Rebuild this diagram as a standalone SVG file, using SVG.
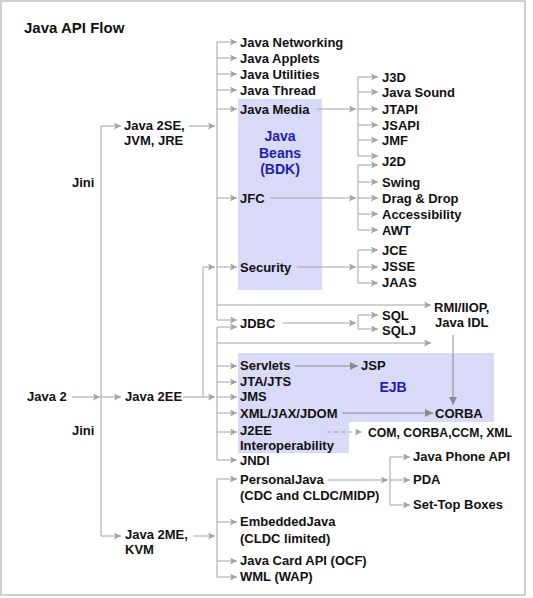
<svg xmlns="http://www.w3.org/2000/svg" width="533" height="598" viewBox="0 0 533 598">
<style>
text{font-family:"Liberation Sans",Arial,sans-serif;font-size:13px;font-weight:bold;fill:#111}
.t{font-size:15px}
.b{font-size:14px;fill:#1e1eb0;text-anchor:middle}
.c line,.c path{stroke:#a3a3a3;stroke-width:1;fill:none}
.c .a{marker-end:url(#ah)}
.c .d{stroke:#8a8a96;marker-end:url(#ahd)}
.c .ds{stroke-dasharray:4 3;marker-end:url(#ah)}
</style>
<defs>
<marker id="ah" viewBox="0 0 7 7" refX="7" refY="3.5" markerWidth="7" markerHeight="7" markerUnits="userSpaceOnUse" orient="auto"><path d="M0,0 L7,3.5 L0,7 L1.5,3.5 z" fill="#a3a3a3"/></marker>
<marker id="ahd" viewBox="0 0 8 8" refX="8" refY="4" markerWidth="8" markerHeight="8" markerUnits="userSpaceOnUse" orient="auto"><path d="M0,0 L8,4 L0,8 z" fill="#8a8a96"/></marker>
</defs>
<rect x="1" y="1" width="524" height="594" fill="#fff" stroke="#d0d0d0" stroke-width="2"/>
<rect id="beans-box" x="238" y="99" width="84" height="191" fill="#d9d9f8"/>
<path id="ejb-box" d="M238,353 H494 V422 H349 V453 H238 Z" fill="#d9d9f8"/>
<text class="t" x="24" y="33">Java API Flow</text>
<g class="c" id="connectors">
<path class="a" d="M72,397 H100"/>
<path d="M101,126 V536"/>
<path class="a" d="M101,126 H121"/>
<path class="a" d="M101,397 H121"/>
<path class="a" d="M101,536 H121"/>
<path class="a" d="M189,126 H215"/>
<path d="M217,42 V320"/>
<path class="a" d="M217,42 H237"/>
<path class="a" d="M217,58 H237"/>
<path class="a" d="M217,74 H237"/>
<path class="a" d="M217,90 H237"/>
<path class="a" d="M217,109 H237"/>
<path class="a" d="M217,198 H237"/>
<path class="a" d="M217,267 H237"/>
<path class="a" d="M217,320 H237"/>
<path class="a" d="M217,305 H431"/>
<path d="M183,397 H203 M203,267 V397"/>
<path class="a" d="M203,267 H215"/>
<path class="a" d="M203,397 H215"/>
<path d="M217,327 V460"/>
<path class="a" d="M217,327 H237"/>
<path class="a" d="M217,343 H431"/>
<path class="a" d="M217,366 H237"/>
<path class="a" d="M217,382 H237"/>
<path class="a" d="M217,397 H237"/>
<path class="a" d="M217,413 H237"/>
<path class="a" d="M217,432 H237"/>
<path class="a" d="M217,460 H237"/>
<path class="a" d="M193,536 H215"/>
<path d="M217,479 V577"/>
<path class="a" d="M217,479 H237"/>
<path class="a" d="M217,522 H237"/>
<path class="a" d="M217,561 H237"/>
<path class="a" d="M217,577 H237"/>
<path class="a" d="M317,109 H356"/>
<path d="M358,77 V156"/>
<path class="a" d="M358,77 H378"/>
<path class="a" d="M358,92 H378"/>
<path class="a" d="M358,109 H378"/>
<path class="a" d="M358,125 H378"/>
<path class="a" d="M358,140 H378"/>
<path class="a" d="M358,156 H378"/>
<path class="a" d="M270,198 H356"/>
<path d="M358,165 V230"/>
<path class="a" d="M358,165 H378"/>
<path class="a" d="M358,182 H378"/>
<path class="a" d="M358,198 H378"/>
<path class="a" d="M358,214 H378"/>
<path class="a" d="M358,230 H378"/>
<path class="a" d="M297,267 H356"/>
<path d="M358,250 V283"/>
<path class="a" d="M358,250 H378"/>
<path class="a" d="M358,267 H378"/>
<path class="a" d="M358,283 H378"/>
<path class="a" d="M283,323 H356"/>
<path d="M358,315 V329"/>
<path class="a" d="M358,315 H378"/>
<path class="a" d="M358,329 H378"/>
<path class="d" d="M453,335 V405"/>
<path class="d" d="M295,366 H358"/>
<path class="d" d="M342,413 H433"/>
<path class="ds" d="M327,432 H362"/>
<path class="a" d="M328,480 H388"/>
<path d="M390,457 V505"/>
<path class="a" d="M390,457 H410"/>
<path class="a" d="M390,480 H410"/>
<path class="a" d="M390,505 H410"/>
</g>
<g id="java2"><text x="27" y="401">Java 2</text></g>
<g id="jini1"><text x="72" y="187">Jini</text></g>
<g id="jini2"><text x="72" y="435">Jini</text></g>
<g id="j2se"><text x="124" y="129.5">Java 2SE,</text><text x="124" y="144.5">JVM, JRE</text></g>
<g id="j2ee"><text x="125" y="401">Java 2EE</text></g>
<g id="j2me"><text x="125" y="539">Java 2ME,</text><text x="125" y="554">KVM</text></g>
<g id="beans"><text class="b" x="280" y="141">Java</text><text class="b" x="280" y="157.5">Beans</text><text class="b" x="280" y="174">(BDK)</text></g>
<g id="ejb"><text class="b" x="393" y="392">EJB</text></g>
<g id="net"><text x="240" y="47">Java Networking</text></g>
<g id="applets"><text x="240" y="63">Java Applets</text></g>
<g id="util"><text x="240" y="79">Java Utilities</text></g>
<g id="thread"><text x="240" y="95">Java Thread</text></g>
<g id="media"><text x="240" y="114">Java Media</text></g>
<g id="jfc"><text x="240" y="203">JFC</text></g>
<g id="security"><text x="240" y="272">Security</text></g>
<g id="jdbc"><text x="240" y="328">JDBC</text></g>
<g id="servlets"><text x="240" y="370">Servlets</text></g>
<g id="jta"><text x="240" y="386">JTA/JTS</text></g>
<g id="jms"><text x="240" y="401">JMS</text></g>
<g id="xml"><text x="240" y="418">XML/JAX/JDOM</text></g>
<g id="j2eei"><text x="240" y="434.5">J2EE</text><text x="240" y="449.5">Interoperability</text></g>
<g id="jndi"><text x="240" y="464.5">JNDI</text></g>
<g id="pjava"><text x="240" y="484">PersonalJava</text><text x="240" y="500">(CDC and CLDC/MIDP)</text></g>
<g id="ejava"><text x="240" y="526">EmbeddedJava</text><text x="240" y="543">(CLDC limited)</text></g>
<g id="jcard"><text x="240" y="565">Java Card API (OCF)</text></g>
<g id="wml"><text x="240" y="581">WML (WAP)</text></g>
<g id="j3d"><text x="382" y="82">J3D</text></g>
<g id="jsound"><text x="382" y="97">Java Sound</text></g>
<g id="jtapi"><text x="382" y="114">JTAPI</text></g>
<g id="jsapi"><text x="382" y="130">JSAPI</text></g>
<g id="jmf"><text x="382" y="145">JMF</text></g>
<g id="j2d"><text x="382" y="166">J2D</text></g>
<g id="swing"><text x="382" y="187">Swing</text></g>
<g id="dnd"><text x="382" y="203">Drag &amp; Drop</text></g>
<g id="access"><text x="382" y="219">Accessibility</text></g>
<g id="awt"><text x="382" y="235">AWT</text></g>
<g id="jce"><text x="382" y="255">JCE</text></g>
<g id="jsse"><text x="382" y="271">JSSE</text></g>
<g id="jaas"><text x="382" y="287">JAAS</text></g>
<g id="sql"><text x="382" y="320">SQL</text></g>
<g id="sqlj"><text x="382" y="335">SQLJ</text></g>
<g id="rmi"><text x="434" y="312">RMI/IIOP,</text><text x="435" y="327">Java IDL</text></g>
<g id="jsp"><text x="361" y="370">JSP</text></g>
<g id="corba"><text x="435" y="418">CORBA</text></g>
<g id="com"><text x="368" y="437" textLength="144" lengthAdjust="spacingAndGlyphs">COM, CORBA,CCM, XML</text></g>
<g id="phone"><text x="413" y="461">Java Phone API</text></g>
<g id="pda"><text x="413" y="484">PDA</text></g>
<g id="stb"><text x="413" y="509">Set-Top Boxes</text></g>
</svg>
